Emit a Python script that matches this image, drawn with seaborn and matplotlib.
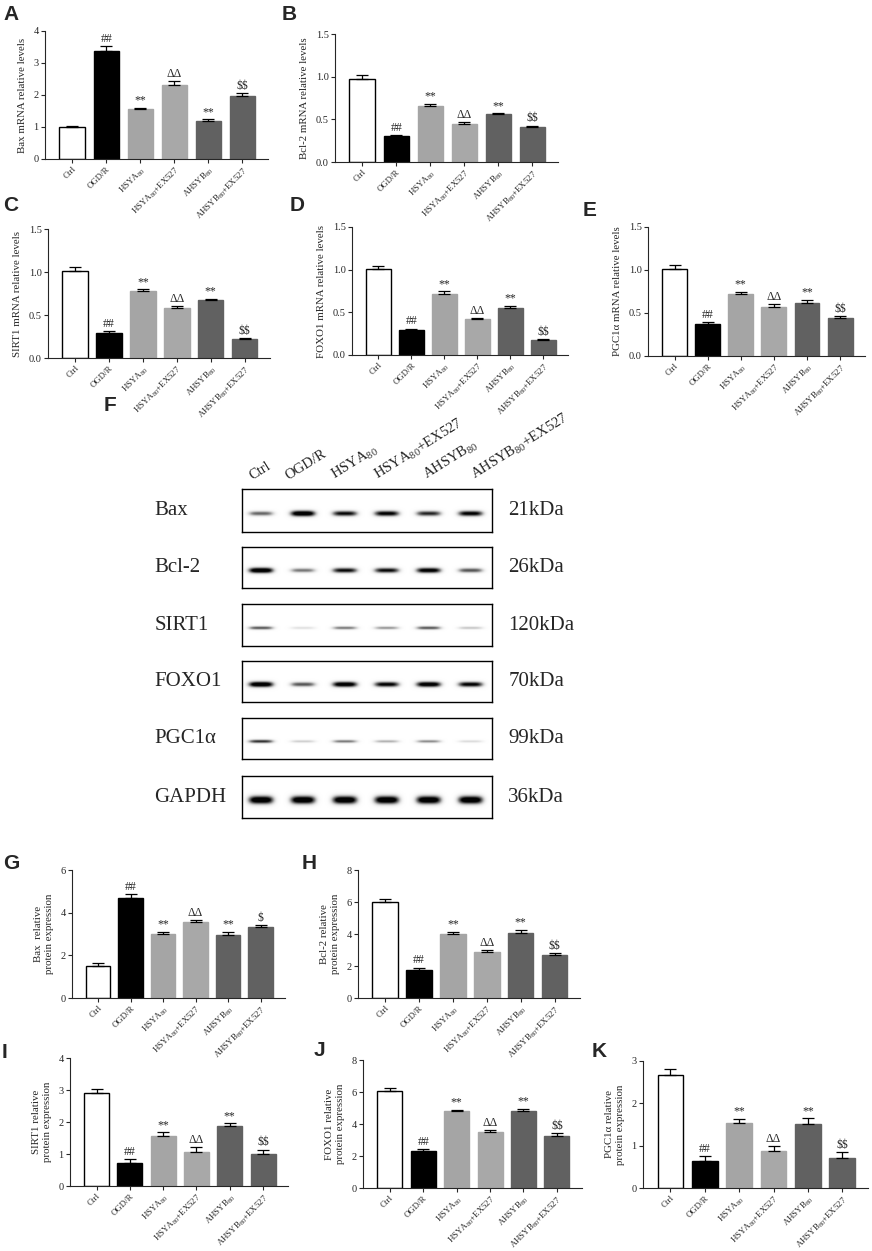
import numpy as np
import pandas as pd
import matplotlib
matplotlib.use("Agg")
import matplotlib.pyplot as plt
import seaborn as sns

# groups and display labels
groups = ["Ctrl", "OGD/R", "HSYA80", "HSYA80+EX527", "AHSYB80", "AHSYB80+EX527"]
group_labels = ["Ctrl", "OGD/R", "HSYA$_{80}$", "HSYA$_{80}$+EX527",
                "AHSYB$_{80}$", "AHSYB$_{80}$+EX527"]
bar_colors = ["white", "black", "#a5a5a5", "#a8a8a8", "#616161", "#616161"]

# qPCR (mRNA) data, mean and SEM
bax_mrna = [1.00, 3.38, 1.55, 2.31, 1.20, 1.97]
bax_mrna_err = [0.02, 0.15, 0.04, 0.12, 0.04, 0.08]
bcl2_mrna = [0.975, 0.30, 0.655, 0.445, 0.56, 0.41]
bcl2_mrna_err = [0.05, 0.012, 0.03, 0.022, 0.012, 0.015]
sirt1_mrna = [1.01, 0.29, 0.775, 0.585, 0.67, 0.225]
sirt1_mrna_err = [0.045, 0.02, 0.025, 0.015, 0.016, 0.008]
foxo1_mrna = [1.01, 0.295, 0.72, 0.42, 0.556, 0.18]
foxo1_mrna_err = [0.03, 0.015, 0.028, 0.015, 0.024, 0.01]
pgc1a_mrna = [1.015, 0.375, 0.717, 0.573, 0.619, 0.44]
pgc1a_mrna_err = [0.043, 0.016, 0.031, 0.027, 0.031, 0.02]

# western blot quantification, mean and SEM
bax_prot = [1.48, 4.71, 2.98, 3.55, 2.93, 3.33]
bax_prot_err = [0.16, 0.15, 0.11, 0.11, 0.16, 0.08]
bcl2_prot = [5.99, 1.77, 4.01, 2.85, 4.05, 2.66]
bcl2_prot_err = [0.20, 0.12, 0.13, 0.12, 0.21, 0.13]
sirt1_prot = [2.90, 0.72, 1.57, 1.06, 1.86, 1.00]
sirt1_prot_err = [0.13, 0.13, 0.11, 0.15, 0.10, 0.14]
foxo1_prot = [6.09, 2.31, 4.80, 3.47, 4.82, 3.22]
foxo1_prot_err = [0.17, 0.12, 0.09, 0.13, 0.13, 0.19]
pgc1a_prot = [2.66, 0.645, 1.53, 0.87, 1.515, 0.72]
pgc1a_prot_err = [0.14, 0.11, 0.10, 0.12, 0.135, 0.12]

marks = ["", "##", "**", "ΔΔ", "**", r"\$\$"]
marks_g = ["", "##", "**", "ΔΔ", "**", r"\$"]

# blot band intensities (0-1)
blot_proteins = ["Bax", "Bcl-2", "SIRT1", "FOXO1", "PGC1α", "GAPDH"]
blot_kda = ["21kDa", "26kDa", "120kDa", "70kDa", "99kDa", "36kDa"]
bax_bands = [0.55, 1.0, 0.8, 0.85, 0.72, 0.85]
bcl2_bands = [1.0, 0.5, 0.8, 0.8, 0.9, 0.6]
sirt1_bands = [0.6, 0.18, 0.5, 0.42, 0.6, 0.28]
foxo1_bands = [1.0, 0.6, 0.95, 0.85, 0.95, 0.85]
pgc1a_bands = [0.7, 0.25, 0.5, 0.35, 0.45, 0.2]
gapdh_bands = [1.0, 1.0, 1.0, 1.0, 1.0, 1.0]
blot_bands = [bax_bands, bcl2_bands, sirt1_bands, foxo1_bands, pgc1a_bands, gapdh_bands]

sns.set_style("ticks")
plt.rcParams["font.family"] = ["Liberation Serif", "DejaVu Serif"]
plt.rcParams["mathtext.default"] = "regular"
plt.rcParams["axes.linewidth"] = 0.8

W, H = 872, 1251
fig = plt.figure(figsize=(W / 100, H / 100), dpi=100)


def px_axes(x0, y0, x1, y1):
    return fig.add_axes([x0 / W, 1 - y1 / H, (x1 - x0) / W, (y1 - y0) / H])


def letter(x, y, s):
    fig.text(x / W, 1 - y / H, s, ha="left", va="top", fontsize=15,
             fontweight="bold", family="Liberation Sans")


def draw_bars(ax, values, errs, sig, ylabel, ymax, ystep):
    df = pd.DataFrame({"group": groups, "value": values})
    sns.barplot(data=df, x="group", y="value", hue="group", order=groups,
                hue_order=groups, palette=dict(zip(groups, bar_colors)),
                width=0.75, errorbar=None, legend=False, ax=ax, zorder=2)
    for patch, c in zip(ax.patches, bar_colors):
        patch.set_edgecolor("black" if c in ("white", "black") else c)
        patch.set_linewidth(1.0)
    xs = np.arange(len(values))
    ax.errorbar(xs, values, yerr=[np.zeros(len(errs)), errs], fmt="none",
                ecolor="black", elinewidth=0.9, capsize=4.5, capthick=0.9, zorder=3)
    for x, v, e, s in zip(xs, values, errs, sig):
        if s:
            ax.text(x, v + e + ymax * 0.01, s, ha="center", va="bottom", fontsize=8.5)
    ax.set_xlim(-0.8, 5.75)
    ax.set_ylim(0, ymax)
    ax.set_yticks(np.arange(0, ymax + 1e-9, ystep))
    ax.set_xticks(xs)
    ax.set_xticklabels(group_labels, rotation=45, ha="right", rotation_mode="anchor",
                       fontsize=6.4)
    ax.tick_params(axis="y", labelsize=7.5, length=3, width=0.8, pad=1.5)
    ax.tick_params(axis="x", length=3, width=0.8, pad=1.5)
    ax.set_xlabel("")
    ax.set_ylabel(ylabel, fontsize=7.8, labelpad=5)
    sns.despine(ax=ax)


# mRNA panels
axA = px_axes(45, 31, 268, 159)
draw_bars(axA, bax_mrna, bax_mrna_err, marks, "Bax mRNA relative levels", 4, 1)
axB = px_axes(335, 34, 558, 162)
draw_bars(axB, bcl2_mrna, bcl2_mrna_err, marks, "Bcl-2 mRNA relative levels", 1.5, 0.5)
axC = px_axes(48, 229, 270, 358)
draw_bars(axC, sirt1_mrna, sirt1_mrna_err, marks, "SIRT1 mRNA relative levels", 1.5, 0.5)
axD = px_axes(352, 227, 568, 355)
draw_bars(axD, foxo1_mrna, foxo1_mrna_err, marks, "FOXO1 mRNA relative levels", 1.5, 0.5)
axE = px_axes(648, 227, 865, 356)
draw_bars(axE, pgc1a_mrna, pgc1a_mrna_err, marks, "PGC1α mRNA relative levels", 1.5, 0.5)

# protein panels
axG = px_axes(72, 870, 285, 998)
draw_bars(axG, bax_prot, bax_prot_err, marks_g, "Bax  relative\nprotein expression", 6, 2)
axH = px_axes(358, 870, 580, 998)
draw_bars(axH, bcl2_prot, bcl2_prot_err, marks, "Bcl-2 relative\nprotein expression", 8, 2)
axI = px_axes(70, 1058, 288, 1186)
draw_bars(axI, sirt1_prot, sirt1_prot_err, marks, "SIRT1 relative\nprotein expression", 4, 1)
axJ = px_axes(363, 1060, 582, 1188)
draw_bars(axJ, foxo1_prot, foxo1_prot_err, marks, "FOXO1 relative\nprotein expression", 8, 2)
axK = px_axes(643, 1061, 868, 1188)
draw_bars(axK, pgc1a_prot, pgc1a_prot_err, marks, "PGC1α relative\nprotein expression", 3, 1)

# western blot
box_rows = [(489, 532), (547, 588), (604, 646), (661, 702), (718, 759), (776, 818)]
thick = [0.07, 0.07, 0.05, 0.07, 0.05, 0.10]
x_lo, x_hi = -0.45, 5.53
gx = np.linspace(x_lo, x_hi, 600)
gy = np.linspace(0, 1, 120)
GX, GY = np.meshgrid(gx, gy)
for (y0, y1), name, kda, bands, th in zip(box_rows, blot_proteins, blot_kda, blot_bands, thick):
    ax = px_axes(242, y0, 492, y1)
    img = np.zeros_like(GX)
    for i, v in enumerate(bands):
        sy = th * (0.55 + 0.45 * v)
        band = v * np.exp(-((GX - i) / 0.3) ** 4) * np.exp(-((GY - 0.43) / sy) ** 2)
        img = np.maximum(img, band)
    ax.imshow(img, extent=(x_lo, x_hi, 0, 1), origin="lower", cmap="Greys",
              vmin=0, vmax=0.8, aspect="auto", interpolation="bilinear")
    ax.set_xlim(x_lo, x_hi)
    ax.set_ylim(0, 1)
    ax.set_xticks([])
    ax.set_yticks([])
    for sp in ax.spines.values():
        sp.set_visible(True)
        sp.set_color("black")
        sp.set_linewidth(1.0)
    ax.text(-0.35, 0.5, name, transform=ax.transAxes, ha="left", va="center", fontsize=15)
    ax.text(1.065, 0.5, kda, transform=ax.transAxes, ha="left", va="center", fontsize=15)

# lane labels above the blot (start points, pixels)
lane_label_x = [252, 288, 335, 378, 427, 475]
for lx, lab in zip(lane_label_x, group_labels):
    fig.text(lx / W, 1 - 480 / H, lab, rotation=32, rotation_mode="anchor",
             ha="left", va="baseline", fontsize=10.5)

# panel letters
letter(3, 5, "A")
letter(282, 5, "B")
letter(3, 196, "C")
letter(290, 196, "D")
letter(583, 201, "E")
letter(104, 396, "F")
letter(3, 854, "G")
letter(302, 854, "H")
letter(2, 1043, "I")
letter(314, 1041, "J")
letter(592, 1042, "K")

fig.savefig("out.png", dpi=100)
